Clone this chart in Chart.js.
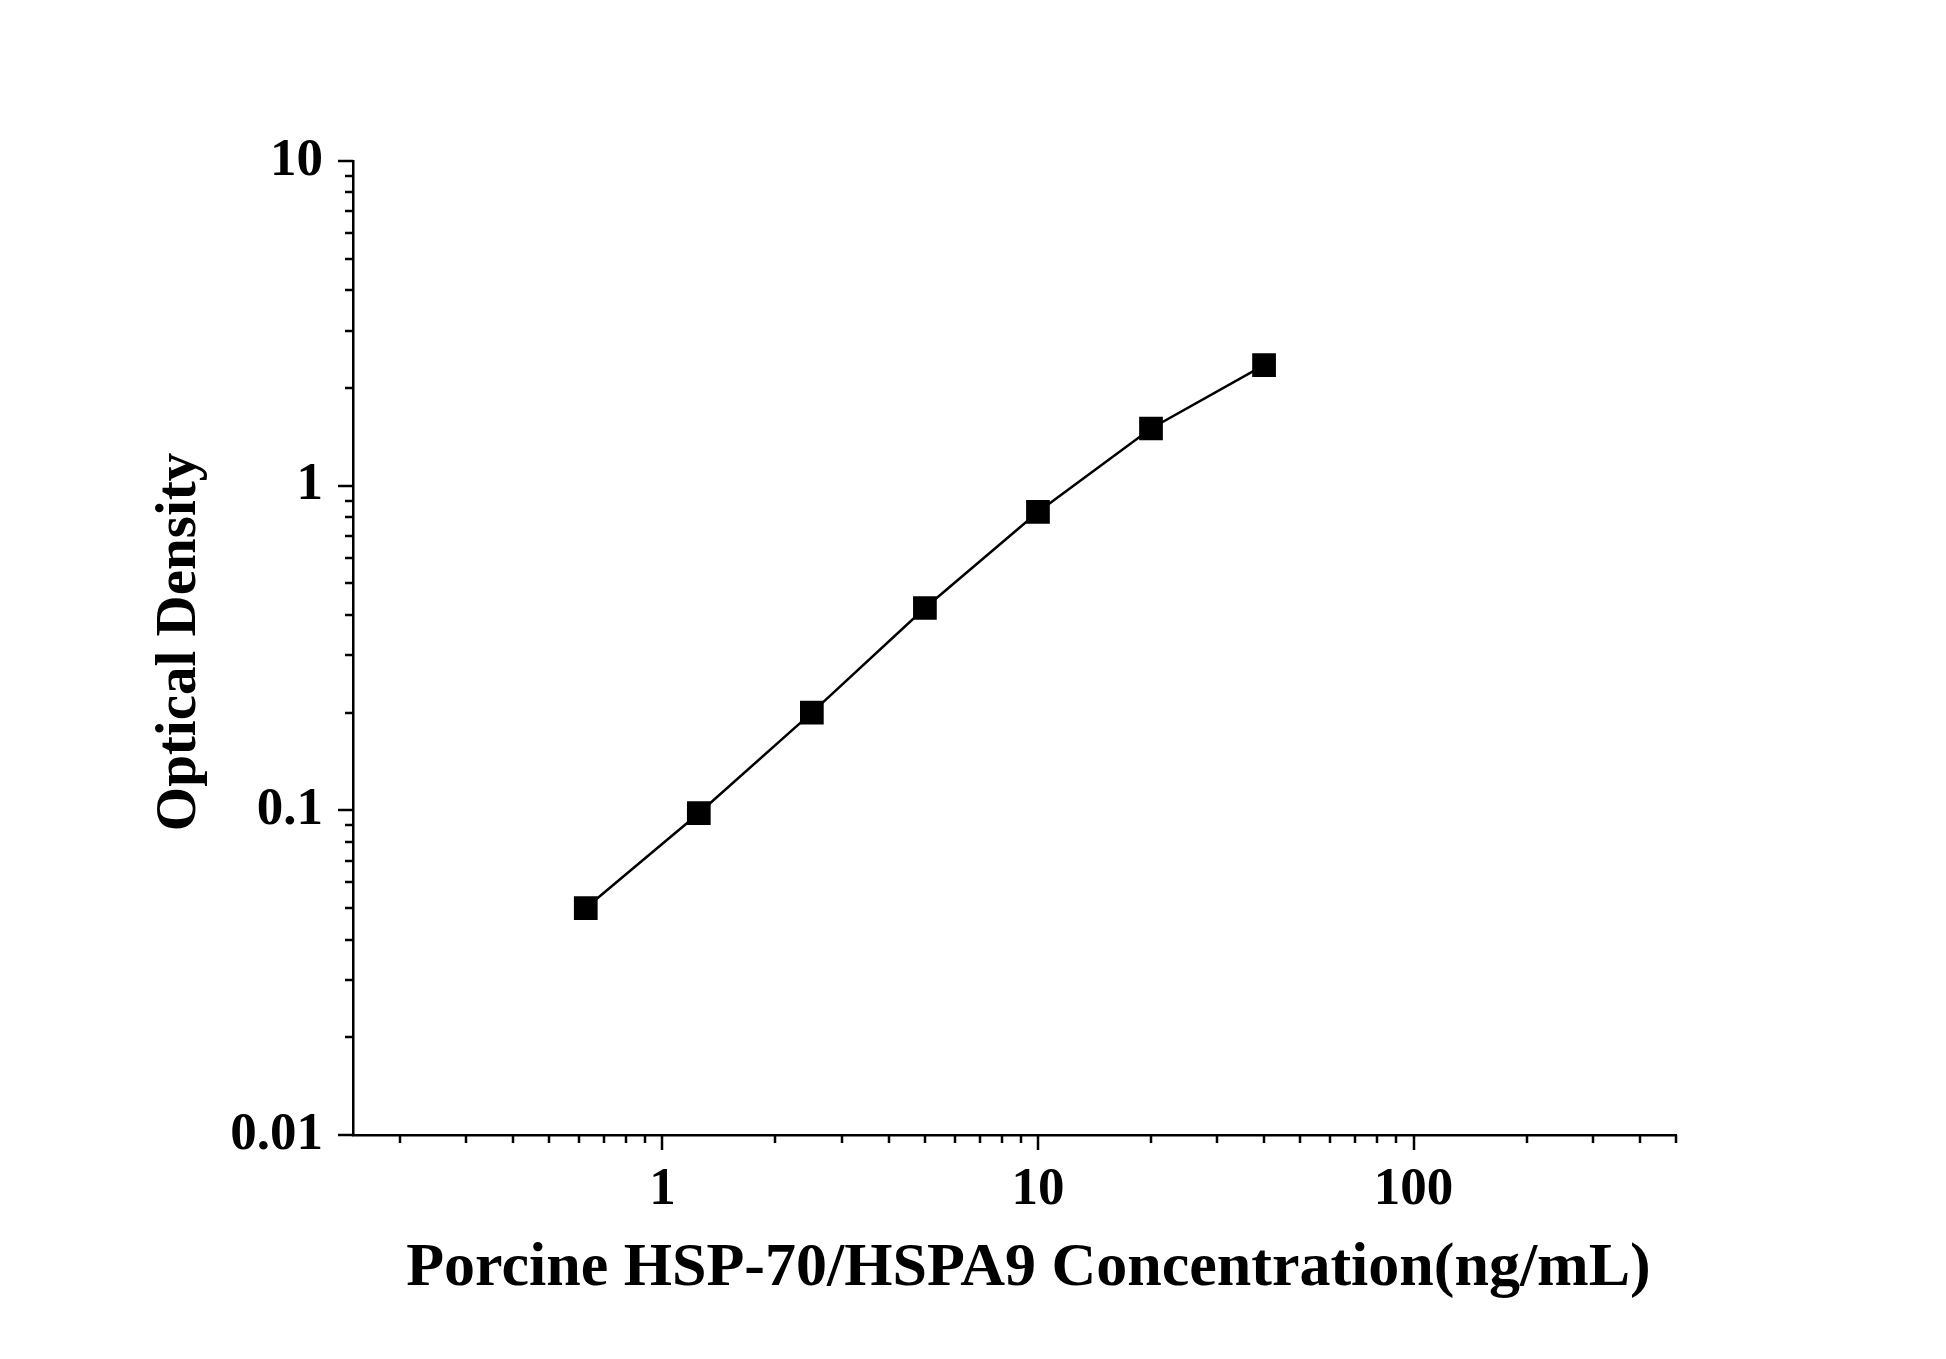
<!DOCTYPE html>
<html><head><meta charset="utf-8">
<script src="https://cdn.jsdelivr.net/npm/chart.js@4"></script>
<style>html,body{margin:0;padding:0;background:#fff}#w{width:1946px;height:1359px}</style>
</head><body><div id="w"><canvas id="c"></canvas></div>
<script>
const concentrations = [0.625, 1.25, 2.5, 5, 10, 20, 40];
const opticalDensity = [0.05, 0.098, 0.2, 0.42, 0.83, 1.5, 2.35];
const xTickLabels = ['1', '10', '100'];
const yTickLabels = ['0.01', '0.1', '1', '10'];
const xTitle = 'Porcine HSP-70/HSPA9 Concentration(ng/mL)';
const yTitle = 'Optical Density';
const FONT = '"Liberation Serif", "Times New Roman", serif';

function logTicks(min, max) {
  const t = [];
  for (let e = -3; e <= 3; e++) for (let m = 1; m <= 9; m++) {
    const v = +(m * Math.pow(10, e)).toPrecision(3);
    if (v >= min * 0.999 && v <= max * 1.001) t.push({value: v});
  }
  return t;
}
function isMajor(v){ const l=Math.log10(v); return Math.abs(l-Math.round(l))<1e-6; }

const tickPlugin = {
  id: 'ticksDraw',
  afterDraw(chart) {
    const ctx = chart.ctx, a = chart.chartArea;
    ctx.save();
    ctx.strokeStyle = '#000'; ctx.lineWidth = 2.5;
    const xs = chart.scales.x, ys = chart.scales.y;
    xs.ticks.forEach(t => {
      const p = Math.round(xs.getPixelForValue(t.value));
      const len = isMajor(t.value) ? 15 : 8;
      ctx.beginPath(); ctx.moveTo(p, a.bottom); ctx.lineTo(p, a.bottom + len); ctx.stroke();
    });
    ys.ticks.forEach(t => {
      const p = Math.round(ys.getPixelForValue(t.value));
      const len = isMajor(t.value) ? 15 : 8;
      ctx.beginPath(); ctx.moveTo(a.left, p); ctx.lineTo(a.left - len, p); ctx.stroke();
    });
    ctx.fillStyle = '#000';
    ctx.font = 'bold 62px ' + FONT;
    ctx.textAlign = 'center'; ctx.textBaseline = 'middle';
    ctx.fillText(xTitle, (a.left + a.right) / 2 + 14, 1269);
    ctx.font = 'bold 57px ' + FONT;
    ctx.translate(180, (a.top + a.bottom) / 2 - 6);
    ctx.rotate(-Math.PI / 2);
    ctx.fillText(yTitle, 0, 0);
    ctx.restore();
  }
};

new Chart(document.getElementById('c'), {
  type: 'line',
  data: {
    datasets: [{
      data: concentrations.map((x, i) => ({x, y: opticalDensity[i]})),
      borderColor: '#000', borderWidth: 2.5, backgroundColor: '#000',
      pointStyle: 'rect', pointRadius: 15, pointHoverRadius: 15, tension: 0
    }]
  },
  options: {
    responsive: true, maintainAspectRatio: false, animation: false,
    layout: {padding: {top: 161, right: 270, left: 0, bottom: 0}},
    plugins: {legend: {display: false}, tooltip: {enabled: false}},
    scales: {
      x: {
        type: 'logarithmic', min: 0.15, max: 500,
        afterBuildTicks: s => { s.ticks = logTicks(0.15, 500); },
        afterFit: s => { s.height = 224; },
        grid: {display: true, drawOnChartArea: false, drawTicks: false},
        border: {color: '#000', width: 2.5},
        ticks: {
          autoSkip: false, maxRotation: 0, padding: 24, color: '#000',
          font: {family: FONT, size: 53, weight: 'bold'},
          callback: v => { const i = ['1','10','100'].indexOf(String(v)); return isMajor(v) && i >= 0 ? xTickLabels[i] : ''; }
        }
      },
      y: {
        type: 'logarithmic', min: 0.01, max: 10,
        afterBuildTicks: s => { s.ticks = logTicks(0.01, 10); },
        afterFit: s => { s.width = 353; },
        grid: {display: true, drawOnChartArea: false, drawTicks: false},
        border: {color: '#000', width: 2.5},
        ticks: {
          autoSkip: false, padding: 30, color: '#000',
          font: {family: FONT, size: 53, weight: 'bold'},
          callback: v => { const i = ['0.01','0.1','1','10'].indexOf(String(v)); return i >= 0 ? yTickLabels[i] : ''; }
        }
      }
    }
  },
  plugins: [tickPlugin]
});
</script></body></html>
